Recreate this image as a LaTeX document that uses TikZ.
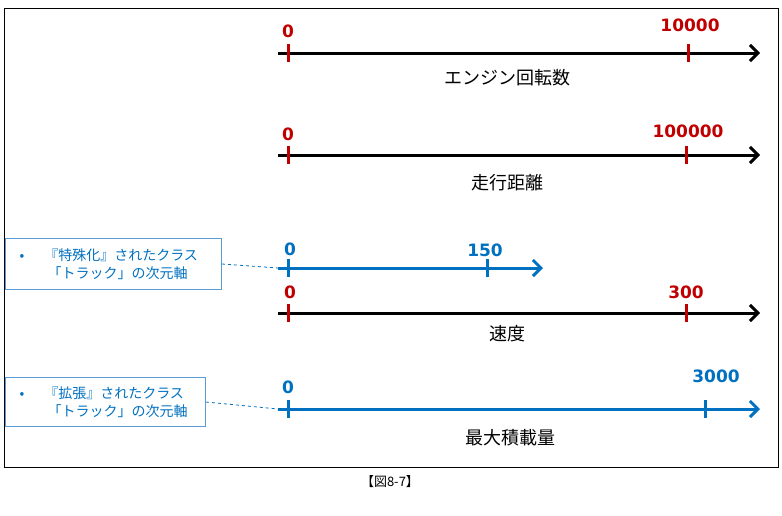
\documentclass[tikz,border=0pt]{standalone}
\usepackage{fontspec}
\usetikzlibrary{arrows.meta}
\setmainfont{Noto Sans CJK JP}
\newfontfamily\numfont{DejaVu Sans}
\definecolor{tick_red}{RGB}{192,0,0}
\definecolor{axis_blue}{RGB}{0,112,192}
\definecolor{box_blue}{RGB}{91,155,213}
\begin{document}
\begin{tikzpicture}[x=1pt,y=-1pt]
            \tikzstyle{axis} = [line width=3pt, -{Straight Barb[length=8pt,width=16pt]}]
            \tikzstyle{tk} = [line width=3pt]
            \tikzstyle{num} = [font=\numfont\bfseries\fontsize{17}{17}\selectfont, inner sep=0pt]
            \tikzstyle{ttl} = [font=\fontsize{18}{18}\selectfont, inner sep=0pt]
            \tikzstyle{note} = [draw=box_blue, line width=1pt, text=axis_blue, font=\fontsize{14}{18}\selectfont, align=left, anchor=north west, inner sep=0pt]
            \useasboundingbox (0,0) rectangle (782,515);
            \draw[line width=0.8pt] (4,8) rectangle (778,467);
            % axis 1
            \coordinate (a1s) at (278,53); \coordinate (a1e) at (760,53);
            \draw[axis] (a1s) -- (a1e);
            \draw[tk,tick_red] (288,44) -- (288,62); \draw[tk,tick_red] (688,44) -- (688,62);
            \node[num,tick_red] (n10) at (288,31) {0};
            \node[num,tick_red] (n11) at (690,25) {10000};
            \node[ttl] (t1) at (507,78) {エンジン回転数};
            % axis 2
            \coordinate (a2s) at (278,155); \coordinate (a2e) at (760,155);
            \draw[axis] (a2s) -- (a2e);
            \draw[tk,tick_red] (288,146) -- (288,164); \draw[tk,tick_red] (686,146) -- (686,164);
            \node[num,tick_red] (n20) at (288,134) {0};
            \node[num,tick_red] (n21) at (688,131) {100000};
            \node[ttl] (t2) at (507,183) {走行距離};
            % axis 3 (blue)
            \coordinate (a3s) at (278,268); \coordinate (a3e) at (543,268);
            \draw[axis,axis_blue] (a3s) -- (a3e);
            \draw[tk,axis_blue] (288,259) -- (288,277); \draw[tk,axis_blue] (487,259) -- (487,277);
            \node[num,axis_blue] (n30) at (290,249) {0};
            \node[num,axis_blue] (n31) at (485,250) {150};
            % axis 4
            \coordinate (a4s) at (278,313); \coordinate (a4e) at (760,313);
            \draw[axis] (a4s) -- (a4e);
            \draw[tk,tick_red] (288,304) -- (288,322); \draw[tk,tick_red] (686,304) -- (686,322);
            \node[num,tick_red] (n40) at (290,292) {0};
            \node[num,tick_red] (n41) at (686,292) {300};
            \node[ttl] (t4) at (507,334) {速度};
            % axis 5 (blue)
            \coordinate (a5s) at (278,409); \coordinate (a5e) at (760,409);
            \draw[axis,axis_blue] (a5s) -- (a5e);
            \draw[tk,axis_blue] (288,400) -- (288,418); \draw[tk,axis_blue] (705,400) -- (705,418);
            \node[num,axis_blue] (n50) at (288,387) {0};
            \node[num,axis_blue] (n51) at (716,376) {3000};
            \node[ttl] (t5) at (510,438) {最大積載量};
            % notes
            \node[note, minimum width=216pt, minimum height=51pt, text width=216pt] (b1) at (5,238)
              {\hspace*{14pt}•\hspace{20pt}『特殊化』されたクラス\\\hspace*{42pt}「トラック」の次元軸};
            \node[note, minimum width=200pt, minimum height=49pt, text width=200pt] (b2) at (5,377)
              {\hspace*{14pt}•\hspace{20pt}『拡張』されたクラス\\\hspace*{42pt}「トラック」の次元軸};
            \draw[dashed, axis_blue, line width=0.8pt] (b1.east) -- (a3s);
            \draw[dashed, axis_blue, line width=0.8pt] (b2.east) -- (a5s);
            \node[font=\fontsize{13}{15}\selectfont] (cap) at (390,482) {【図8-7】};
        \end{tikzpicture}
\end{document}
